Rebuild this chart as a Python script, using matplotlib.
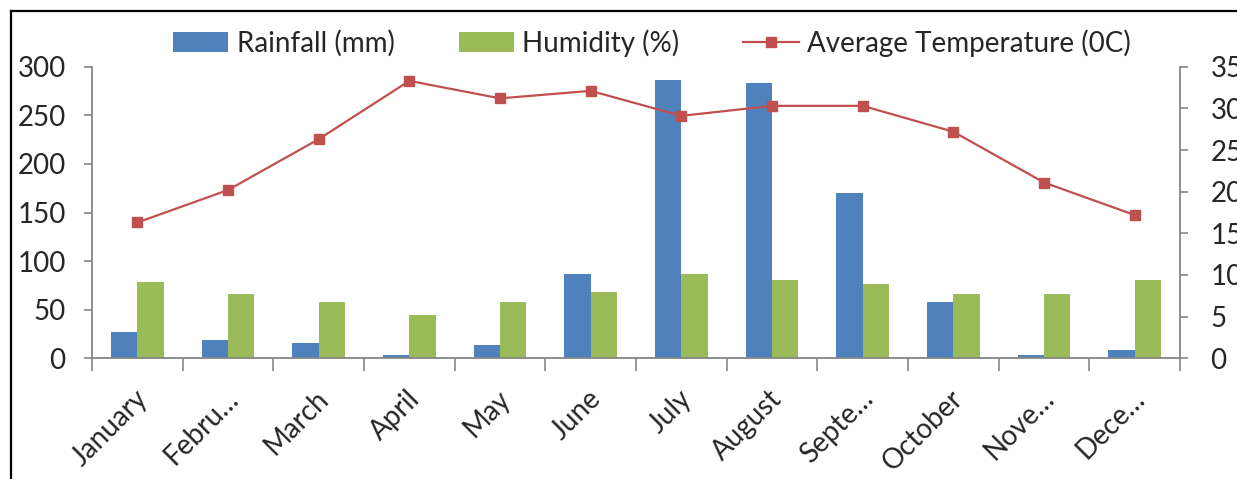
import matplotlib
matplotlib.use("Agg")
import matplotlib.pyplot as plt
from matplotlib.lines import Line2D
from matplotlib.patches import Patch
from matplotlib.transforms import ScaledTranslation
import numpy as np

months = ["January", "Febru\u2026", "March", "April", "May", "June", "July",
          "August", "Septe\u2026", "October", "Nove\u2026", "Dece\u2026"]
rainfall = [27, 19, 16, 3, 14, 87, 286, 283, 170, 58, 3, 8.5]
humidity = [79, 66, 58, 45, 58, 68.5, 87, 81, 76.5, 66, 66, 81]
temperature = [16.3, 20.2, 26.3, 33.3, 31.2, 32.1, 29.1, 30.3, 30.3, 27.2, 21.1, 17.2]
left_ticks = [0, 50, 100, 150, 200, 250, 300]
right_ticks = [0, 5, 10, 15, 20, 25, 30, 35]

BLUE = "#4F81BD"
GREEN = "#9BBB59"
RED = "#C0504D"
AXIS = "#868686"
TEXT = "#262626"

plt.rcParams["font.family"] = ["Lato", "DejaVu Sans"]
FS = 20

W, H = 1237, 479
fig = plt.figure(figsize=(W / 100, H / 100), dpi=100)
ax = fig.add_axes([92 / W, 1 - 358.3 / H, (1180 - 92) / W, (358.3 - 66.7) / H])

x = np.arange(len(months))
bw = 0.29
ax.bar(x - bw / 2, rainfall, width=bw, color=BLUE, zorder=2)
ax.bar(x + bw / 2, humidity, width=bw, color=GREEN, zorder=2)
ax.set_xlim(-0.5, len(months) - 0.5)
ax.set_ylim(0, 300)
ax.set_yticks(left_ticks)

ax2 = ax.twinx()
ax2.plot(x, temperature, color=RED, lw=1.6, marker="s", markersize=6.5,
         markeredgecolor=RED, zorder=3)
ax2.set_ylim(0, 35)
ax2.set_yticks(right_ticks)
ax.set_zorder(ax2.get_zorder() - 1)
ax.patch.set_visible(False)

for a in (ax, ax2):
    a.spines["top"].set_visible(False)
    for s in ("left", "right", "bottom"):
        a.spines[s].set_color(AXIS)
        a.spines[s].set_linewidth(1.3)
ax.spines["right"].set_visible(False)
ax2.spines["left"].set_visible(False)
ax2.spines["bottom"].set_visible(False)

ax.tick_params(axis="y", direction="out", length=6, width=1.2, color=AXIS,
               labelsize=FS, labelcolor=TEXT, pad=13)
ax2.tick_params(axis="y", direction="out", length=6, width=1.2, color=AXIS,
                labelsize=FS, labelcolor=TEXT, pad=16)

# category boundaries carry the tick marks, centres carry the labels
ax.set_xticks(np.arange(-0.5, len(months)), minor=True)
ax.set_xticks(x)
ax.set_xticklabels(months, rotation=45, ha="right", va="center",
                   rotation_mode="anchor")
ax.tick_params(axis="x", which="major", length=0, labelsize=FS,
               labelcolor=TEXT, pad=26)
ax.tick_params(axis="x", which="minor", direction="out", length=9,
               width=1.2, color=AXIS)
offset = ScaledTranslation(6 / 100, 0, fig.dpi_scale_trans)
for lbl in ax.get_xticklabels():
    lbl.set_transform(lbl.get_transform() + offset)

handles = [
    Patch(facecolor=BLUE, label="Rainfall (mm)"),
    Patch(facecolor=GREEN, label="Humidity (%)"),
    Line2D([], [], color=RED, lw=1.6, marker="s", markersize=6.5,
           label="Average Temperature (0C)"),
]
leg = fig.legend(handles=handles, ncol=3, loc="center",
                 bbox_to_anchor=(652 / W, 1 - 43 / H), frameon=False,
                 fontsize=FS, handlelength=2.0, handletextpad=0.3,
                 columnspacing=2.3)
for t in leg.get_texts():
    t.set_color(TEXT)

# outer frame of the chart area
fig.add_artist(Line2D([10.5 / W, 10.5 / W], [0, 1 - 10.5 / H], color="black",
                      lw=1.6, transform=fig.transFigure))
fig.add_artist(Line2D([10.5 / W, 1], [1 - 10.5 / H, 1 - 10.5 / H],
                      color="black", lw=1.6, transform=fig.transFigure))

fig.savefig("out.png", dpi=100, facecolor="white")
